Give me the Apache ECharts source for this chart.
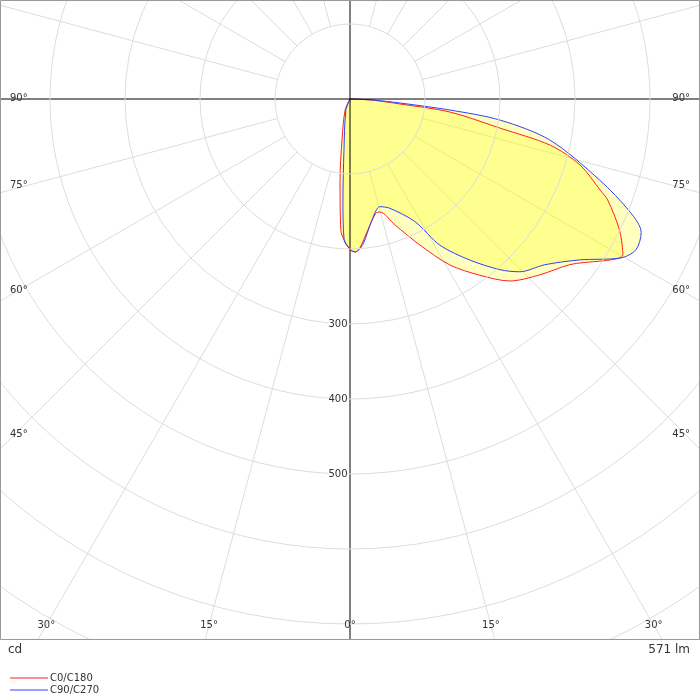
<!DOCTYPE html>
<html><head><meta charset="utf-8">
<script src="https://cdn.jsdelivr.net/npm/echarts@6/dist/echarts.min.js"></script>
<style>html,body{margin:0;padding:0;background:#fff}#c{width:700px;height:700px}</style>
</head><body><div id="c"></div>
<script>
// C0 (right half of red), gamma in degrees, intensity cd
const c0Gamma = [0, 1.9, 3.8, 7.8, 12.8, 14.9, 19.6, 25.6, 31, 36.4, 41.3, 47.2, 53, 60.3, 64, 68.6, 70, 74, 77, 79, 82.6, 84.3, 87, 90];
const c0Cd    = [201, 204, 199, 176, 156, 156, 178, 216, 258, 292, 323, 345, 367, 419, 400, 369, 355, 319, 274, 204, 134, 67, 30, 0];
// C180 (left half of red)
const c180Gamma = [0, 4, 7, 11, 24, 90];
const c180Cd    = [201, 175, 109, 56, 16, 0];
// C90 (right half of blue)
const c90Gamma = [0, 2, 5, 10.3, 15.5, 20, 27.9, 31.6, 36.7, 41.3, 44.5, 49.6, 55, 59.5, 62.2, 65.4, 68, 72, 78.4, 82, 83.7, 85.4, 87.5, 90];
const c90Cd    = [200, 204, 195, 164, 149, 155, 185, 229, 268, 303, 323, 341, 374, 418, 431, 427, 403, 350, 272, 202, 134, 67, 30, 0];
// C270 (left half of blue)
const c270Gamma = [0, 2.4, 4, 6.7, 20, 90];
const c270Cd    = [200, 188, 135, 69, 16, 0];
const radiusTicks = [300, 400, 500];
const sideAngles = [90, 75, 60, 45];
const bottomAngles = [30, 15, 0, 15, 30];
const legendNames = ['C0/C180', 'C90/C270'];
const fluxText = '571 lm';
const unitText = 'cd';

function curve(leftG, leftC, rightG, rightC) {
  const d = [];
  for (let i = leftG.length - 1; i >= 0; i--) d.push([leftC[i], 360 - leftG[i]]);
  for (let i = 0; i < rightG.length; i++) d.push([rightC[i], rightG[i]]);
  return d;
}
const cx = 350, cy = 99, W = 700, H = 640;
const chart = echarts.init(document.getElementById('c'));
const font = 'DejaVu Sans, sans-serif';
const g = [];
g.push({type:'rect', shape:{x:0.5,y:0.5,width:W-1,height:H-1}, style:{fill:null, stroke:'#999', lineWidth:1}, z:101});
g.push({type:'rect', shape:{x:0,y:H,width:700,height:60}, style:{fill:'#fff'}, z:100});
sideAngles.forEach(a => {
  const dy = a === 90 ? 0 : (W - 10 - cx) / Math.tan(a * Math.PI / 180);
  const y = cy + dy - (a === 90 ? 0 : 4);
  g.push({type:'text', left:10, top:y - 6, style:{text:a + '°', font:'10px ' + font, fill:'#333'}, z:102});
  g.push({type:'text', right:10, top:y - 6, style:{text:a + '°', font:'10px ' + font, fill:'#333', align:'right'}, z:102});
});
bottomAngles.forEach((a, i) => {
  const sign = i < 2 ? -1 : 1;
  const x = cx + sign * Math.tan(a * Math.PI / 180) * (625 - cy);
  g.push({type:'text', x:x, y:620, style:{text:a + '°', font:'10px ' + font, fill:'#333', align:'center'}, z:102});
});
g.push({type:'text', x:8, y:644, style:{text:unitText, font:'12px ' + font, fill:'#333'}, z:102});
g.push({type:'text', x:690, y:644, style:{text:fluxText, font:'12px ' + font, fill:'#333', align:'right'}, z:102});

const spokes = [];
for (let a = 0; a < 360; a += 15) {
  if (a % 90 === 0) continue;
  spokes.push({type:'line', coordinateSystem:'polar', data:[[100, a], [1000, a]], symbol:'none', silent:true,
    lineStyle:{color:'#dcdcdc', width:1}, z:1});
}

chart.setOption({
  animation:false,
  polar:{center:[cx, cy], radius:750},
  angleAxis:{type:'value', min:0, max:360, interval:15, startAngle:270, clockwise:false,
    axisLine:{show:false}, axisTick:{show:false}, axisLabel:{show:false}, splitLine:{show:false}},
  radiusAxis:{type:'value', min:0, max:1000, interval:100,
    axisLine:{show:false}, axisTick:{show:false},
    axisLabel:{formatter:v => radiusTicks.includes(v) ? String(v) : '', color:'#333', fontSize:10, fontFamily:font, margin:-12, align:'center', verticalAlign:'middle', backgroundColor:'#fff'},
    splitLine:{show:true, lineStyle:{color:'#dcdcdc', width:1}}, z:5},
  legend:{orient:'vertical', left:5, top:668, itemGap:2, itemWidth:38, itemHeight:1, icon:'rect',
    textStyle:{fontSize:10, fontFamily:font, color:'#333', padding:[0,0,0,-3]}, data:legendNames, z:103},
  graphic:g,
  series:spokes.concat([
    {type:'line', coordinateSystem:'polar', data:[[1000,0],[0,0],[1000,180]], symbol:'none', silent:true,
      lineStyle:{color:'#000', width:1}, z:4},
    {type:'line', coordinateSystem:'polar', data:[[1000,90],[0,90],[1000,270]], symbol:'none', silent:true,
      lineStyle:{color:'#000', width:1}, z:4},
    {name:legendNames[0], type:'line', coordinateSystem:'polar', data:curve(c180Gamma, c180Cd, c0Gamma, c0Cd),
      symbol:'none', smooth:0.3, lineStyle:{color:'#ff2020', width:1}, itemStyle:{color:'#ff2020'},
      areaStyle:{color:'rgba(255,255,0,0.36)'}, z:3},
    {name:legendNames[1], type:'line', coordinateSystem:'polar', data:curve(c270Gamma, c270Cd, c90Gamma, c90Cd),
      symbol:'none', smooth:0.3, lineStyle:{color:'#3040ff', width:1}, itemStyle:{color:'#3040ff'},
      areaStyle:{color:'rgba(255,255,0,0.36)'}, z:3}
  ])
});
</script></body></html>
